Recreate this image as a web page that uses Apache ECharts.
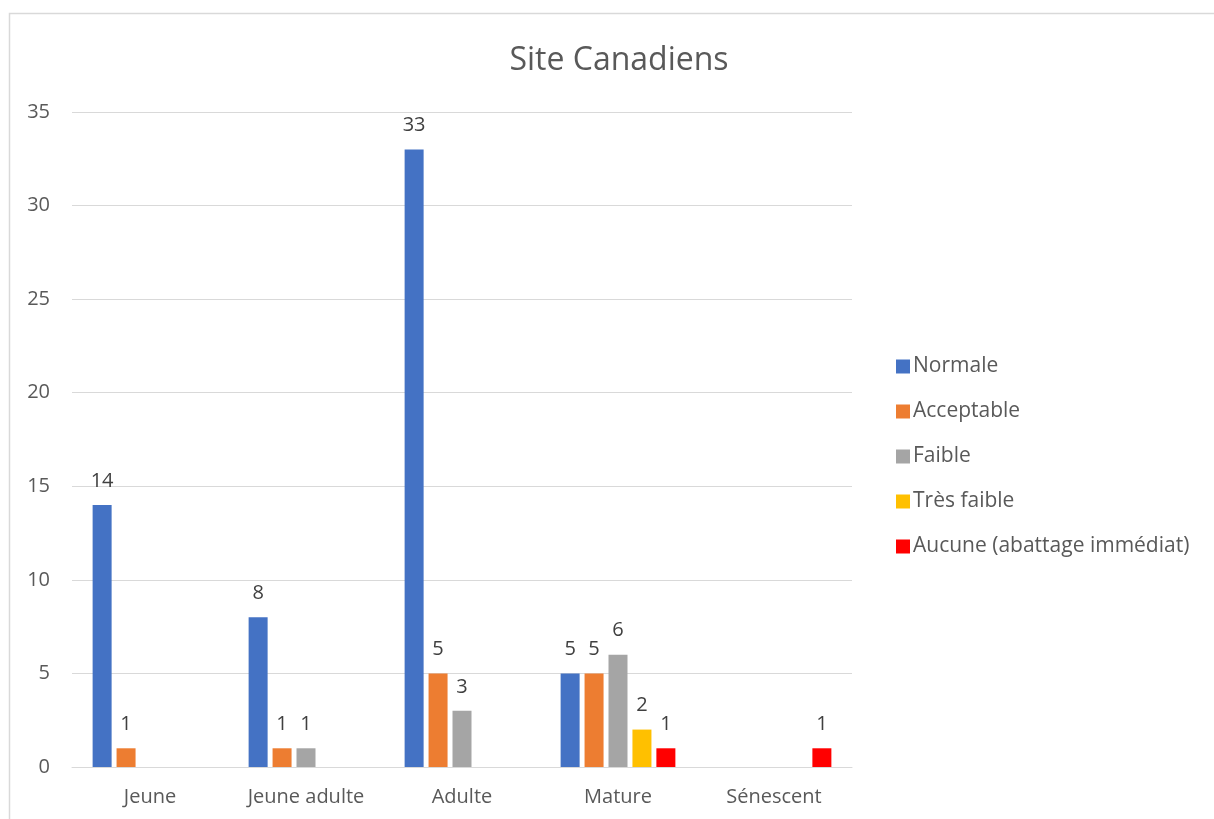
<!DOCTYPE html>
<html>
<head>
<meta charset="utf-8">
<script src="https://cdn.jsdelivr.net/npm/echarts@6/dist/echarts.min.js"></script>
<style>html,body{margin:0;padding:0;background:#fff;}#c{width:1214px;height:819px;}</style>
</head>
<body>
<div id="c"></div>
<script>
const categories = ['Jeune', 'Jeune adulte', 'Adulte', 'Mature', 'Sénescent'];
const seriesNames = ['Normale', 'Acceptable', 'Faible', 'Très faible', 'Aucune (abattage immédiat)'];
const normale = [14, 8, 33, 5, null];
const acceptable = [1, 1, 5, 5, null];
const faible = [null, 1, 3, 6, null];
const tresFaible = [null, null, null, 2, null];
const aucune = [null, null, null, 1, 1];
const yTicks = [0, 5, 10, 15, 20, 25, 30, 35];

const colors = ['#4472C4', '#ED7D31', '#A5A5A5', '#FFC000', '#FF0000'];
const values = [normale, acceptable, faible, tresFaible, aucune];
const FONT = '"Open Sans", sans-serif';

const chart = echarts.init(document.getElementById('c'));
chart.setOption({
  animation: false,
  backgroundColor: '#fff',
  color: colors,
  title: {
    text: 'Site Canadiens',
    left: 614, top: 40, textAlign: 'center',
    textStyle: { fontFamily: FONT, fontSize: 32, fontWeight: 'normal', color: '#595959' }
  },
  graphic: [{
    type: 'rect', silent: true,
    shape: { x: 9.5, y: 13.5, width: 1220, height: 820 },
    style: { fill: 'none', stroke: '#D9D9D9', lineWidth: 1.5 }
  }],
  legend: {
    orient: 'vertical', left: 891, top: 351,
    itemWidth: 14, itemHeight: 14, itemGap: 24, icon: 'rect',
    textStyle: { fontFamily: FONT, fontSize: 21, color: '#595959', padding: [0, 0, 0, -2] },
    data: seriesNames
  },
  grid: { left: 72, right: 362, top: 112, bottom: 52, containLabel: false },
  xAxis: {
    type: 'category', data: categories,
    axisLine: { show: true, lineStyle: { color: '#D9D9D9', width: 1 } },
    axisTick: { show: false },
    axisLabel: { margin: 20, fontFamily: FONT, fontSize: 20, color: '#595959' }
  },
  yAxis: {
    type: 'value', min: yTicks[0], max: yTicks[yTicks.length - 1], interval: 5,
    axisLine: { show: false }, axisTick: { show: false },
    splitLine: { lineStyle: { color: '#D9D9D9', width: 1 } },
    axisLabel: { margin: 22, fontFamily: FONT, fontSize: 20, color: '#595959' }
  },
  series: seriesNames.map((n, i) => ({
    name: n, type: 'bar', data: values[i],
    barWidth: 19, barGap: '26%',
    itemStyle: { color: colors[i] },
    label: { show: true, position: 'top', distance: 14, fontFamily: FONT, fontSize: 20, color: '#404040' }
  }))
});
</script>
</body>
</html>
